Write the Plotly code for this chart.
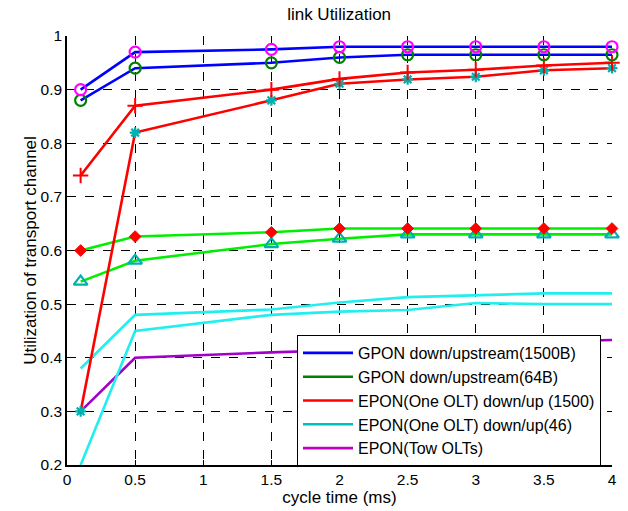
import plotly.graph_objects as go

x_cycle = [0.1, 0.5, 1.5, 2, 2.5, 3, 3.5, 4]

gpon_1500_a = [0.90, 0.97, 0.975, 0.98, 0.98, 0.98, 0.98, 0.98]
gpon_1500_b = [0.88, 0.94, 0.95, 0.96, 0.965, 0.965, 0.965, 0.965]
epon_1500_a = [0.74, 0.87, 0.90, 0.92, 0.932, 0.937, 0.945, 0.95]
epon_1500_b = [0.30, 0.82, 0.88, 0.911, 0.919, 0.924, 0.936, 0.94]
gpon_64_a = [0.60, 0.626, 0.634, 0.641, 0.641, 0.641, 0.641, 0.641]
gpon_64_b = [0.542, 0.581, 0.612, 0.622, 0.63, 0.63, 0.63, 0.63]
epon_46_a = [0.38, 0.48, 0.49, 0.503, 0.513, 0.517, 0.52, 0.52]
epon_46_b = [0.20, 0.45, 0.48, 0.486, 0.489, 0.502, 0.50, 0.50]
epon_two = [0.30, 0.40, 0.41, 0.414, 0.42, 0.425, 0.43, 0.433]

legend_names = [
    "GPON down/upstream(1500B)",
    "GPON down/upstream(64B)",
    "EPON(One OLT) down/up (1500)",
    "EPON(One OLT) down/up(46)",
    "EPON(Tow OLTs)",
]
legend_colors = ["#0000FF", "#008000", "#FF0000", "#00BFBF", "#BF00BF"]

BLUE = "#0000FF"
RED = "#FF0000"
LIME = "#00EE00"
CYAN = "#22EEEE"
PURPLE = "#A000C8"
MAG = "#FF00FF"
DGREEN = "#008000"
DCYAN = "#00B0B0"

fig = go.Figure()

def add(y, lc, mode="lines", msym=None, mcol=None, msize=10, mlw=2):
    marker = None
    if msym is not None:
        marker = dict(symbol=msym, color=mcol, size=msize, line=dict(color=mcol, width=mlw))
    fig.add_trace(go.Scatter(x=x_cycle, y=y, mode=mode, line=dict(color=lc, width=2.6),
                             marker=marker, showlegend=False, hoverinfo="skip", cliponaxis=False))

add(epon_two, PURPLE)
add(epon_46_b, CYAN)
add(epon_46_a, CYAN)
add(gpon_64_b, LIME, "lines+markers", "triangle-up-open", DCYAN, 12, 2.2)
add(gpon_64_a, LIME, "lines+markers", "diamond", RED, 9, 1)
add(epon_1500_b, RED, "lines+markers", "asterisk-open", DCYAN, 9, 2.2)
add(epon_1500_a, RED, "lines+markers", "cross-thin-open", RED, 11, 2)
add(gpon_1500_b, BLUE, "lines+markers", "circle-open", DGREEN, 11, 2.2)
add(gpon_1500_a, BLUE, "lines+markers", "circle-open", MAG, 11, 2.2)

for name, col in zip(legend_names, legend_colors):
    fig.add_trace(go.Scatter(x=[None], y=[None], mode="lines", name=name,
                             line=dict(color=col, width=2.6)))

axis_common = dict(
    showgrid=True, gridcolor="#000000", griddash="dash", gridwidth=1,
    showline=True, linecolor="#000000", linewidth=1.5,
    ticks="inside", ticklen=5, tickcolor="#000000",
    zeroline=False, tickfont=dict(size=15.5, color="#000000"),
    automargin=False,
)

fig.update_layout(
    width=628, height=511,
    margin=dict(l=67, r=16, t=36, b=46),
    paper_bgcolor="white", plot_bgcolor="white",
    font=dict(family="Liberation Sans, Arial, sans-serif", size=16, color="#000000"),
    title=dict(text="link Utilization", x=0.54, xanchor="center", y=0.973, yanchor="middle",
               font=dict(size=17)),
    xaxis=dict(range=[0, 4], dtick=0.5, tick0=0,
               title=dict(text="cycle time (ms)", standoff=0, font=dict(size=17)), **axis_common),
    yaxis=dict(range=[0.2, 1], dtick=0.1, tick0=0.2,
               title=dict(text="Utilization of transport channel", standoff=0, font=dict(size=17)),
               **axis_common),
    legend=dict(x=0.422, y=0.303, xanchor="left", yanchor="top",
                bgcolor="white", bordercolor="#000000", borderwidth=1,
                font=dict(size=16), itemwidth=50, tracegroupgap=0),
)

fig.write_html("out.html", config={"displayModeBar": False},
               post_script="document.body.style.margin='0';")
